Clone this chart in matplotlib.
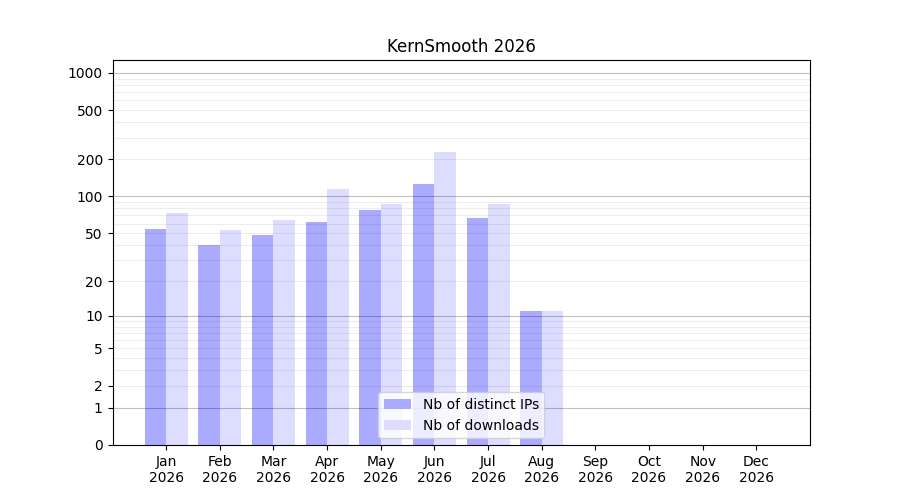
import numpy as np
import matplotlib
matplotlib.use('Agg')
import matplotlib.pyplot as plt

months = ['Jan', 'Feb', 'Mar', 'Apr', 'May', 'Jun', 'Jul', 'Aug', 'Sep', 'Oct', 'Nov', 'Dec']
year = 2026
distinct_ips = [54, 40, 48, 62, 77, 127, 67, 11, 0, 0, 0, 0]
downloads = [73, 53, 64, 115, 87, 230, 87, 11, 0, 0, 0, 0]
ytick_values = [0, 1, 2, 5, 10, 20, 50, 100, 200, 500, 1000]


def fwd(y):
    return np.log10(1 + np.clip(y, 0, None))


def inv(y):
    return 10 ** y - 1


fig, ax = plt.subplots(figsize=(9, 5), dpi=100)
x = np.arange(len(months))
ax.bar(x - 0.2, distinct_ips, width=0.4, color='#aaaaff', label='Nb of distinct IPs', zorder=1)
ax.bar(x + 0.2, downloads, width=0.4, color='#ddddff', label='Nb of downloads', zorder=1)

ax.set_yscale('function', functions=(fwd, inv))
ax.set_ylim(0, 1270)
ax.set_xlim(-1, 12)

# grid lines: darker on the decades, light in between (drawn over the bars)
for decade in [1, 10, 100]:
    for m in range(2, 10):
        ax.axhline(decade * m, color='black', alpha=0.07, lw=0.8, zorder=2)
for decade in [1, 10, 100, 1000]:
    ax.axhline(decade, color='black', alpha=0.25, lw=0.8, zorder=2)

ax.set_yticks(ytick_values)
ax.set_yticklabels([str(v) for v in ytick_values])
ax.yaxis.set_minor_locator(matplotlib.ticker.NullLocator())
ax.set_xticks(x)
ax.set_xticklabels(['%s\n%d' % (m, year) for m in months])

ax.set_title('KernSmooth %d' % year)
ax.legend(loc='lower center')

plt.savefig('out.png')
